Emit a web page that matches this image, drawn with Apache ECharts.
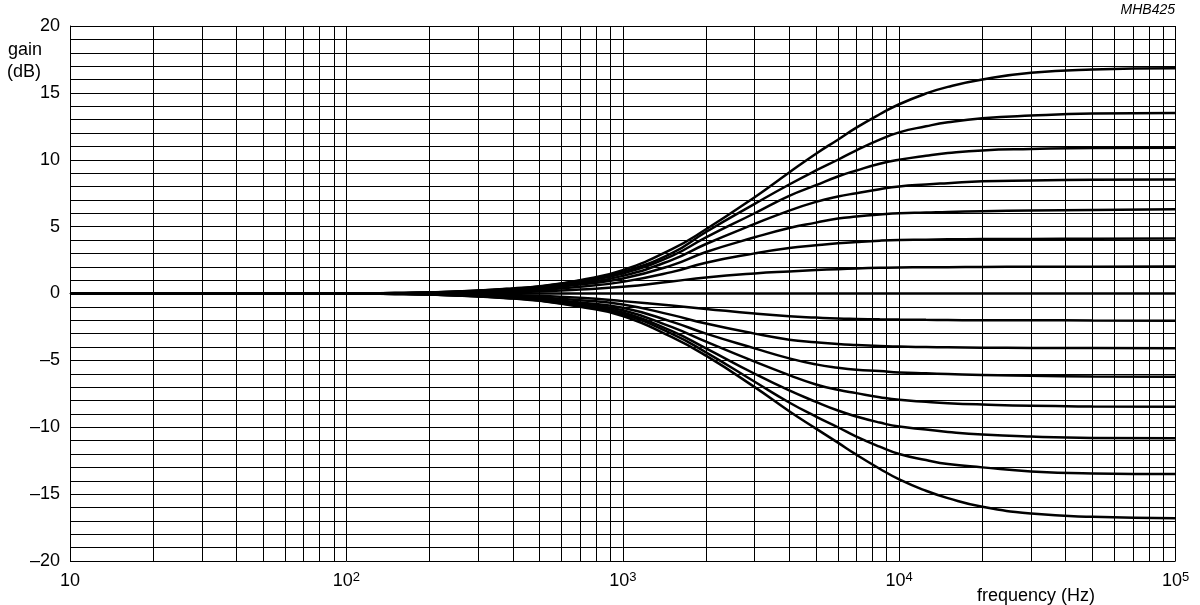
<!DOCTYPE html>
<html>
<head>
<meta charset="utf-8">
<script src="https://cdn.jsdelivr.net/npm/echarts@6/dist/echarts.min.js"></script>
<style>
html,body{margin:0;padding:0;background:#fff;}
#chart{width:1200px;height:605px;}
</style>
</head>
<body>
<div id="chart"></div>
<script>
// Frequencies (Hz) at which gain values were read
const freqs = [10, 100, 150, 200, 300, 400, 500, 700, 1000, 1500, 2000, 3000, 4000, 5000, 6000, 7000, 8500, 10000, 12500, 15000, 20000, 30000, 50000, 100000];

// Gain curves (dB), boost
const boost1 = [0, 0, 0.03, 0.08, 0.22, 0.38, 0.55, 1.0, 1.75, 3.3, 4.8, 7.2, 9.05, 10.45, 11.5, 12.4, 13.4, 14.15, 14.95, 15.45, 16.0, 16.5, 16.75, 16.85];
const boost2 = [0, 0, 0.03, 0.08, 0.21, 0.36, 0.52, 0.95, 1.62, 3.0, 4.6, 6.7, 8.15, 9.2, 10.0, 10.7, 11.5, 12.05, 12.5, 12.8, 13.1, 13.3, 13.45, 13.5];
const boost3 = [0, 0, 0.03, 0.07, 0.2, 0.34, 0.48, 0.88, 1.5, 2.8, 4.2, 6.0, 7.3, 8.1, 8.75, 9.2, 9.7, 10.0, 10.3, 10.5, 10.7, 10.8, 10.88, 10.9];
const boost4 = [0, 0, 0.02, 0.06, 0.18, 0.3, 0.43, 0.78, 1.32, 2.5, 3.7, 5.2, 6.2, 6.85, 7.25, 7.5, 7.8, 8.0, 8.15, 8.25, 8.4, 8.45, 8.5, 8.52];
const boost5 = [0, 0, 0.02, 0.05, 0.15, 0.26, 0.37, 0.67, 1.12, 2.1, 3.1, 4.2, 4.9, 5.3, 5.6, 5.75, 5.9, 6.0, 6.05, 6.1, 6.15, 6.2, 6.25, 6.3];
const boost6 = [0, 0, 0.01, 0.04, 0.11, 0.19, 0.27, 0.5, 0.87, 1.6, 2.3, 3.0, 3.4, 3.6, 3.75, 3.85, 3.95, 4.0, 4.02, 4.05, 4.07, 4.08, 4.1, 4.12];
const boost7 = [0, 0, 0.01, 0.02, 0.06, 0.1, 0.15, 0.3, 0.5, 0.9, 1.2, 1.5, 1.65, 1.75, 1.82, 1.87, 1.92, 1.95, 1.96, 1.97, 1.98, 2.0, 2.0, 2.02];
// flat
const flat = [0, 0, 0, 0, 0, 0, 0, 0, 0, 0, 0, 0, 0, 0, 0, 0, 0, 0, 0, 0, 0, 0, 0, 0];
// Gain curves (dB), cut
const cut1 = [0, 0, -0.01, -0.02, -0.06, -0.11, -0.17, -0.32, -0.57, -0.9, -1.15, -1.5, -1.7, -1.8, -1.87, -1.9, -1.93, -1.95, -1.97, -1.98, -2.0, -2.0, -2.02, -2.03];
const cut2 = [0, 0, -0.01, -0.04, -0.11, -0.2, -0.29, -0.5, -0.82, -1.6, -2.25, -3.0, -3.45, -3.65, -3.78, -3.85, -3.92, -3.97, -4.0, -4.02, -4.05, -4.07, -4.08, -4.1];
const cut3 = [0, 0, -0.02, -0.05, -0.15, -0.26, -0.38, -0.67, -1.07, -2.1, -3.0, -4.1, -4.85, -5.3, -5.55, -5.7, -5.8, -5.9, -5.97, -6.02, -6.1, -6.15, -6.2, -6.22];
const cut4 = [0, 0, -0.02, -0.06, -0.18, -0.3, -0.43, -0.78, -1.25, -2.5, -3.6, -5.1, -6.1, -6.8, -7.2, -7.45, -7.75, -7.95, -8.1, -8.2, -8.3, -8.4, -8.45, -8.47];
const cut5 = [0, 0, -0.03, -0.07, -0.2, -0.34, -0.48, -0.88, -1.42, -2.8, -4.1, -6.0, -7.25, -8.1, -8.75, -9.2, -9.65, -9.95, -10.17, -10.35, -10.55, -10.7, -10.8, -10.83];
const cut6 = [0, 0, -0.03, -0.08, -0.21, -0.36, -0.52, -0.95, -1.55, -3.0, -4.4, -6.6, -8.15, -9.2, -10.0, -10.7, -11.45, -12.0, -12.45, -12.75, -13.0, -13.3, -13.45, -13.5];
const cut7 = [0, 0, -0.03, -0.08, -0.22, -0.38, -0.55, -1.0, -1.68, -3.25, -4.65, -7.0, -8.8, -10.1, -11.15, -12.05, -13.1, -13.9, -14.75, -15.3, -15.95, -16.45, -16.7, -16.8];

// Minor vertical grid frequencies
const minorFreqs = [20,30,40,50,60,70,80,90, 200,300,400,500,600,700,800,900, 2000,3000,4000,5000,6000,7000,8000,9000, 20000,30000,40000,50000,60000,70000,80000,90000];

// Axis text
const yTickLabels = {'20':'20','15':'15','10':'10','5':'5','0':'0','-5':'\u20135','-10':'\u201310','-15':'\u201315','-20':'\u201320'};
const xAxisTitle = 'frequency (Hz)';
const yAxisTitle1 = 'gain';
const yAxisTitle2 = '(dB)';
const figCode = 'MHB425';

const curves = [boost1, boost2, boost3, boost4, boost5, boost6, boost7, flat, cut1, cut2, cut3, cut4, cut5, cut6, cut7];

const FONT = '"Liberation Sans", Arial, sans-serif';
const FS = 18;

const series = curves.map((arr, i) => {
  const s = {
    type: 'line',
    data: freqs.map((f, j) => [f, arr[j]]),
    showSymbol: false,
    smooth: 0.5,
    lineStyle: {color: '#000', width: 2.5},
    silent: true,
    animation: false,
    z: 5
  };
  if (i === 7) {
    s.markLine = {
      silent: true,
      symbol: 'none',
      label: {show: false},
      animation: false,
      lineStyle: {color: '#000', width: 1, type: 'solid'},
      data: minorFreqs.map(f => ({xAxis: f}))
    };
  }
  return s;
});

const chart = echarts.init(document.getElementById('chart'), null, {renderer: 'canvas'});
chart.setOption({
  backgroundColor: '#fff',
  animation: false,
  grid: {left: 70, right: 24.4, top: 26, bottom: 44, containLabel: false},
  xAxis: {
    type: 'log',
    logBase: 10,
    min: 10,
    max: 100000,
    axisLine: {show: true, lineStyle: {color: '#000', width: 1}},
    axisTick: {show: false},
    splitLine: {show: true, lineStyle: {color: '#000', width: 1}},
    axisLabel: {
      margin: 10,
      color: '#000',
      fontFamily: FONT,
      fontSize: FS,
      formatter: function (v) {
        const e = Math.round(Math.log10(v));
        if (e === 1) return '{b|10}';
        return '{b|10}{sup|' + e + '}';
      },
      rich: {
        b: {fontSize: FS, fontFamily: FONT, color: '#000', lineHeight: 20},
        sup: {fontSize: 13, fontFamily: FONT, color: '#000', verticalAlign: 'top', lineHeight: 12, padding: [0, 0, 9, 0]}
      }
    }
  },
  yAxis: {
    type: 'value',
    min: -20,
    max: 20,
    interval: 1,
    axisLine: {show: true, lineStyle: {color: '#000', width: 1}},
    axisTick: {show: false},
    splitLine: {show: true, lineStyle: {color: '#000', width: 1}},
    axisLabel: {
      margin: 10,
      color: '#000',
      fontFamily: FONT,
      fontSize: FS,
      formatter: function (v) {
        const k = String(Math.round(v));
        return yTickLabels[k] !== undefined ? yTickLabels[k] : '';
      }
    }
  },
  graphic: [
    {type: 'text', left: 8, top: 41, style: {text: yAxisTitle1, font: FS + 'px ' + FONT, fill: '#000'}},
    {type: 'text', left: 7, top: 63, style: {text: yAxisTitle2, font: FS + 'px ' + FONT, fill: '#000'}},
    {type: 'text', left: 977, top: 587, style: {text: xAxisTitle, font: FS + 'px ' + FONT, fill: '#000'}},
    {type: 'text', right: 25, top: 3, style: {text: figCode, font: 'italic 14px ' + FONT, fill: '#000'}}
  ],
  series: series
});
</script>
</body>
</html>
